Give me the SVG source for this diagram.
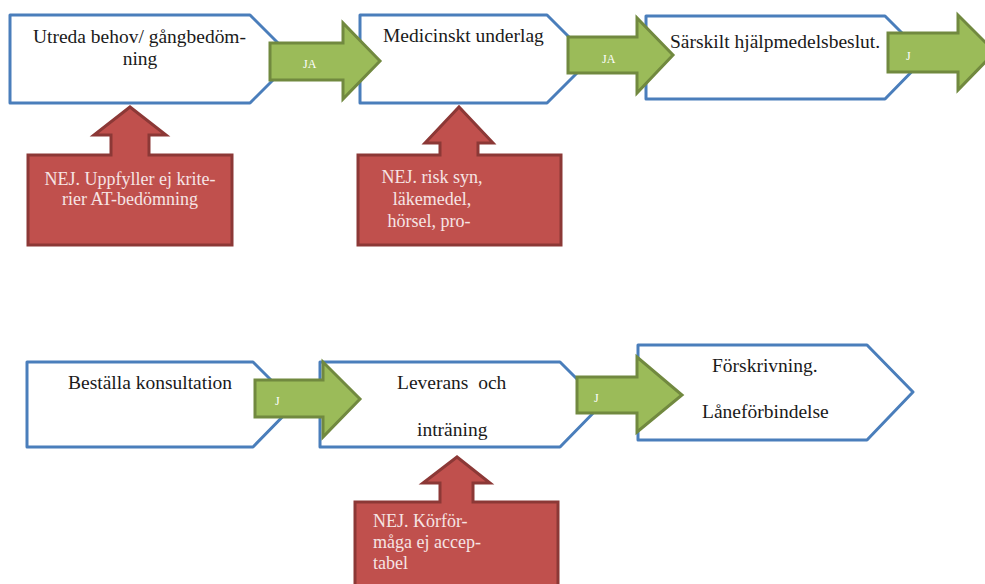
<svg xmlns="http://www.w3.org/2000/svg" width="985" height="584" viewBox="0 0 985 584">
<style>
.node{fill:#fff;stroke:#4a7ebb;stroke-width:3;stroke-linejoin:round}
.no{fill:#c0504d;stroke:#8c3836;stroke-width:3;stroke-linejoin:miter}
.yes{fill:#9bbb59;stroke:#71893f;stroke-width:3;stroke-linejoin:miter}
.t{font-family:"Liberation Serif","Times New Roman",serif;font-size:19.5px;fill:#1a1a1a}
.w{font-family:"Liberation Serif","Times New Roman",serif;font-size:18px;fill:#f6e4e4}
.l{font-family:"Liberation Serif","Times New Roman",serif;font-size:12px;fill:#ffffff}
.m{text-anchor:middle}
</style>
<rect width="985" height="584" fill="#fff"/>
<g id="nej1"><polygon class="no" points="28,155 111,155 111,135 94,135 130,107 166,135 149,135 149,155 232,155 232,245 28,245"/>
<text class="w m" x="130" y="185">NEJ. Uppfyller ej krite-</text><text class="w m" x="130" y="205">rier AT-bedömning</text></g>
<g id="nej2"><polygon class="no" points="358,155 440,155 440,143 425,143 459,107 493,143 478,143 478,155 561,155 561,245 358,245"/>
<text class="w m" x="432" y="183">NEJ. risk syn,</text><text class="w m" x="432" y="205">läkemedel,</text><text class="w m" x="429" y="227">hörsel, pro-</text></g>
<g id="nej3"><polygon class="no" points="355,502 440,502 440,483 423,483 457,457 490,483 473,483 473,502 558,502 558,600 355,600"/>
<text class="w" x="373" y="527">NEJ. Körför-</text><text class="w" x="373" y="548">måga ej accep-</text><text class="w" x="373" y="569">tabel</text></g>
<g id="n1"><path class="node" d="M10,15 L250,15 L294,59 L250,103 L10,103 Z"/>
<text class="t" x="33" y="43" textLength="213" lengthAdjust="spacingAndGlyphs">Utreda behov/ gångbedöm-</text><text class="t m" x="140" y="65">ning</text></g>
<g id="n2"><path class="node" d="M360,15 L547,15 L591,59 L547,103 L360,103 Z"/>
<text class="t" x="383" y="42">Medicinskt underlag</text></g>
<g id="n3"><path class="node" d="M646,16 L885,16 L926,57 L885,99 L646,99 Z"/>
<text class="t" x="670" y="48">Särskilt hjälpmedelsbeslut.</text></g>
<g id="n4"><path class="node" d="M27,362 L253,362 L295,404 L253,447 L27,447 Z"/>
<text class="t" x="68" y="389">Beställa konsultation</text></g>
<g id="n5"><path class="node" d="M320,362 L560,362 L602,404 L560,447 L320,447 Z"/>
<text class="t" x="397" y="389" xml:space="preserve">Leverans  och</text><text class="t" x="417" y="436">inträning</text></g>
<g id="n6"><path class="node" d="M638,345 L867,345 L913,392 L867,440 L638,440 Z"/>
<text class="t" x="712" y="372">Förskrivning.</text><text class="t" x="702" y="418">Låneförbindelse</text></g>
<g id="connectors">
<g id="a1"><polygon class="yes" points="270,43 343,43 343,23 380,61 343,99 343,80 270,80"/><text class="l" x="303" y="68">JA</text></g>
<g id="a2"><polygon class="yes" points="568,37 637,37 637,18 673,55 637,93 637,73 568,73"/><text class="l" x="602" y="63">JA</text></g>
<g id="a3"><polygon class="yes" points="888,33 958,33 958,15 995,52 958,90 958,72 888,72"/><text class="l" x="906" y="60">J</text></g>
<g id="a4"><polygon class="yes" points="255,380 323,380 323,362 360,399 323,437 323,417 255,417"/><text class="l" x="275" y="405">J</text></g>
<g id="a5"><polygon class="yes" points="577,377 637,377 637,357 682,395 637,432 637,413 577,413"/><text class="l" x="594" y="402">J</text></g>
</g>
</svg>
